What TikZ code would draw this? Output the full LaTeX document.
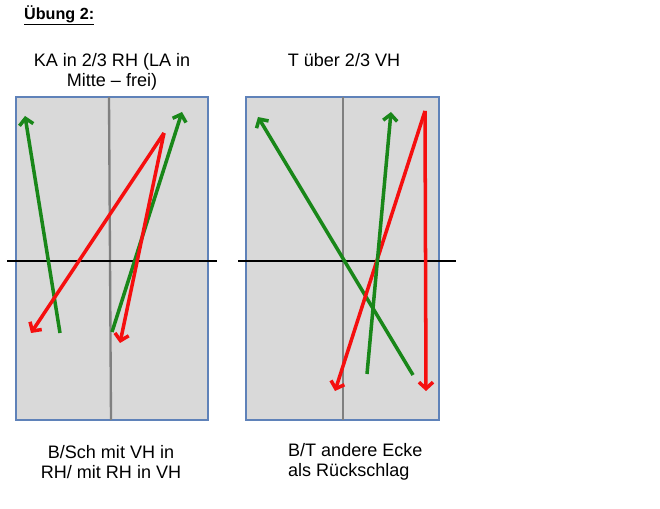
\documentclass[tikz,border=0pt]{standalone}
\usepackage{fontspec}
\setmainfont{Liberation Sans}
\usetikzlibrary{arrows.meta}
\definecolor{courtblue}{RGB}{95,130,185}
\definecolor{courtgray}{RGB}{217,217,217}
\definecolor{shotgreen}{RGB}{25,135,25}
\definecolor{shotred}{RGB}{245,15,15}
\begin{document}
\begin{tikzpicture}[
  x=0.03cm, y=-0.03cm,
  court/.style={draw=courtblue, fill=courtgray, line width=1.4pt},
  midline/.style={draw=gray, line width=2pt},
  netline/.style={draw=black, line width=1.7pt},
  arr/.style={-{Straight Barb[length=5.5pt,width=12pt]}, line width=3pt},
  greenarr/.style={arr, draw=shotgreen},
  redarr/.style={arr, draw=shotred},
  txt/.style={font=\fontsize{15.4}{17.5}\selectfont, align=center}
]
\useasboundingbox (0,0) rectangle (660,509);

% heading
\node[font=\bfseries\fontsize{13.8}{16}\selectfont, anchor=west] (head) at (20,15) {\underline{Übung 2:}};

% left court
\draw[court] (16,97) rectangle (208,420);
\draw[midline] (109,97) -- (111,420);
\draw[netline] (7,261) -- (217,261);
\node[txt] (titleL) at (112,72) {KA in 2/3 RH (LA in\\Mitte -- frei)};

\coordinate (l1s) at (60,333);
\coordinate (l1e) at (25,116);
\coordinate (l2s) at (164,133);
\coordinate (l2e) at (31,333);
\coordinate (l3s) at (112,332);
\coordinate (l3e) at (182,112);
\coordinate (l4e) at (120,343);
\draw[greenarr] (l1s) -- (l1e);
\draw[greenarr] (l3s) -- (l3e);
\draw[redarr] (l2s) -- (l2e);
\draw[redarr] (l2s) -- (l4e);

% right court
\draw[court] (246,97) rectangle (439,420);
\draw[midline] (343,97) -- (343,420);
\draw[netline] (238,261) -- (456,261);
\node[txt] (titleR) at (344,60) {T über 2/3 VH};

\coordinate (r1s) at (413,375);
\coordinate (r1e) at (258,117);
\coordinate (r2s) at (367,374);
\coordinate (r2e) at (391,112);
\coordinate (r3s) at (425,111);
\coordinate (r3e) at (335,391);
\coordinate (r4e) at (426,391);
\draw[greenarr] (r1s) -- (r1e);
\draw[redarr] (r3s) -- (r3e);
\draw[greenarr] (r2s) -- (r2e);
\draw[redarr] (r3s) -- (r4e);

% captions
\node[txt] (capL) at (111,462) {B/Sch mit VH in\\RH/ mit RH in VH};
\node[txt, align=left, anchor=west] (capR) at (284,462) {B/T andere Ecke\\als Rückschlag};
\end{tikzpicture}
\end{document}
